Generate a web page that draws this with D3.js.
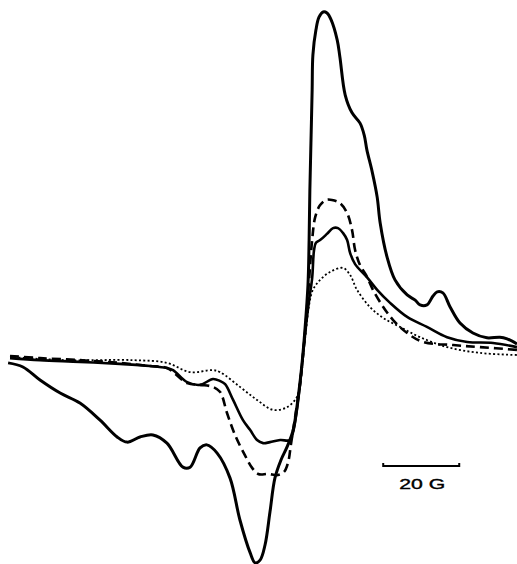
<!DOCTYPE html>
<html>
<head>
<meta charset="utf-8">
<script src="https://cdn.jsdelivr.net/npm/d3@7/dist/d3.min.js"></script>
<style>
  html, body { margin: 0; padding: 0; background: #fff; }
  svg { display: block; }
</style>
</head>
<body>
<svg id="chart" width="517" height="564"></svg>
<script>
// EPR first-derivative spectra: field offset (G) vs signal intensity (a.u.)

// Strong signal, solid heavy trace
const fieldA = [-0.5, 3.4, 7.9, 13.2, 18.4, 23.7, 28.2, 30.8, 34.2, 37.6, 41.3, 45.5, 47.4, 50.0, 51.8, 54.5, 57.9, 60.5, 63.2, 64.5, 65.8, 67.1, 68.4, 69.7, 71.3, 72.9, 74.5, 75.8, 76.8, 77.6, 78.4, 78.7, 78.9, 79.2, 79.5, 79.7, 80.5, 81.3, 82.4, 83.4, 84.5, 86.1, 86.8, 88.2, 90.0, 92.1, 93.2, 93.9, 95.3, 96.6, 97.4, 99.2, 101.3, 104.5, 106.6, 107.9, 109.7, 111.3, 112.4, 113.9, 115.8, 118.4, 121.8, 125.5, 128.9, 130.8, 133.4];
const signalA = [-2.3, -3.5, -7.3, -11.1, -14.0, -19.0, -23.9, -25.4, -23.9, -23.3, -25.7, -32.7, -32.7, -27.1, -26.2, -28.6, -35.9, -48.1, -57.7, -60.6, -59.8, -55.4, -45.8, -35.9, -30.6, -26.8, -21.9, -12.5, -2.9, 7.3, 20.4, 33.5, 48.1, 62.7, 77.3, 87.5, 94.8, 98.5, 100, 99.7, 97.7, 91.8, 86.9, 75.8, 70.6, 67.6, 64.1, 59.8, 53.4, 46.1, 38.5, 28.6, 21.9, 17.5, 16.0, 14.6, 14.6, 17.2, 18.4, 18.1, 14.0, 9.3, 6.4, 5.0, 5.2, 4.7, 3.2];

// Dashed trace
const fieldB = [0, 7.9, 18.4, 28.9, 36.8, 41.3, 46.6, 50.0, 53.4, 55.3, 57.1, 59.2, 61.8, 63.7, 65.3, 67.9, 70.5, 72.1, 73.2, 73.9, 74.7, 75.5, 76.3, 77.1, 77.9, 78.7, 79.5, 80.3, 81.6, 83.2, 84.7, 86.8, 88.7, 90.0, 90.8, 92.1, 93.7, 95.5, 98.2, 100.8, 104.5, 108.7, 116.6, 123.7, 133.4];
const signalB = [-0.3, -0.9, -1.5, -2.3, -3.2, -3.8, -8.2, -8.7, -9.3, -10.8, -16.9, -23.3, -29.2, -32.9, -34.7, -34.7, -35.0, -34.1, -31.2, -26.2, -20.4, -14.6, -8.7, 0, 10.2, 21.9, 33.5, 40.2, 43.7, 45.2, 45.2, 44.3, 41.4, 36.4, 30.6, 26.2, 23.3, 19.0, 14.0, 10.2, 6.4, 3.8, 2.9, 2.3, 1.5];

// Solid medium trace
const fieldD = [0, 7.9, 18.4, 28.9, 36.8, 41.3, 42.9, 46.6, 50.0, 53.4, 55.3, 56.6, 58.7, 61.3, 63.2, 65.0, 66.6, 68.4, 71.1, 73.7, 74.5, 75.5, 76.3, 77.1, 77.9, 78.7, 79.5, 80.0, 80.5, 81.6, 83.4, 85.0, 86.3, 87.6, 88.7, 89.5, 90.8, 93.9, 96.6, 100.0, 104.5, 109.7, 115.0, 120.3, 127.1, 133.4];
const signalD = [-0.9, -1.5, -2.0, -2.6, -3.2, -3.8, -4.4, -7.9, -8.7, -7.0, -7.6, -8.5, -13.1, -19.0, -21.9, -24.8, -25.7, -25.4, -24.8, -24.8, -22.4, -16.0, -8.7, 0, 8.7, 16.0, 22.4, 30.6, 32.7, 33.5, 35.3, 37.0, 37.0, 35.6, 33.5, 29.7, 26.5, 22.7, 19.0, 15.2, 11.1, 8.2, 5.2, 3.8, 3.5, 2.3];

// Dotted trace
const fieldC = [0, 15.0, 32.4, 41.3, 47.4, 53.4, 55.3, 60.5, 65.0, 69.2, 72.9, 75.5, 76.3, 77.1, 77.9, 78.7, 79.7, 81.6, 84.2, 87.6, 89.5, 91.3, 94.7, 98.2, 102.6, 107.9, 115.0, 123.7, 133.4];
const signalC = [-0.6, -1.5, -1.5, -2.3, -5.0, -4.4, -5.0, -9.3, -13.1, -16.0, -15.2, -12.2, -7.3, 0, 7.3, 14.6, 19.0, 21.9, 24.2, 25.4, 23.3, 19.0, 14.0, 10.8, 8.2, 5.2, 2.3, 0.6, 0];

// Field scale bar
const barStart = 98.2;
const barLength = 20;
const barLabel = "20 G";

const svg = d3.select("#chart");

const x = d3.scaleLinear().domain([0, 133.4]).range([10, 517]);
const y = d3.scaleLinear().domain([0, 100]).range([355, 12]);

const line = d3.line()
  .x(d => x(d[0]))
  .y(d => y(d[1]))
  .curve(d3.curveCatmullRom.alpha(0.5));

const traces = [
  { f: fieldC, s: signalC, width: 1.8, dash: "2,2.3" },
  { f: fieldD, s: signalD, width: 2.6, dash: null },
  { f: fieldB, s: signalB, width: 2.6, dash: "9,5" },
  { f: fieldA, s: signalA, width: 3, dash: null }
];

svg.selectAll("path.trace")
  .data(traces)
  .join("path")
  .attr("class", "trace")
  .attr("d", t => line(d3.zip(t.f, t.s)))
  .attr("fill", "none")
  .attr("stroke", "#000")
  .attr("stroke-width", t => t.width)
  .attr("stroke-linejoin", "round")
  .attr("stroke-dasharray", t => t.dash);

// Scale bar
const barY = 466;
const bar = svg.append("g");
bar.append("line")
  .attr("x1", x(barStart)).attr("x2", x(barStart + barLength))
  .attr("y1", barY).attr("y2", barY)
  .attr("stroke", "#000").attr("stroke-width", 2);
[barStart, barStart + barLength].forEach(v => {
  bar.append("line")
    .attr("x1", x(v)).attr("x2", x(v))
    .attr("y1", barY - 3).attr("y2", barY + 1)
    .attr("stroke", "#000").attr("stroke-width", 2);
});
bar.append("text")
  .attr("x", x(barStart + barLength / 2) + 1)
  .attr("y", 489)
  .attr("text-anchor", "middle")
  .attr("font-family", "Liberation Sans, Arial, sans-serif")
  .attr("font-size", 15)
  .attr("stroke", "#000")
  .attr("stroke-width", 0.4)
  .attr("textLength", 46)
  .attr("lengthAdjust", "spacingAndGlyphs")
  .text(barLabel);
</script>
</body>
</html>
